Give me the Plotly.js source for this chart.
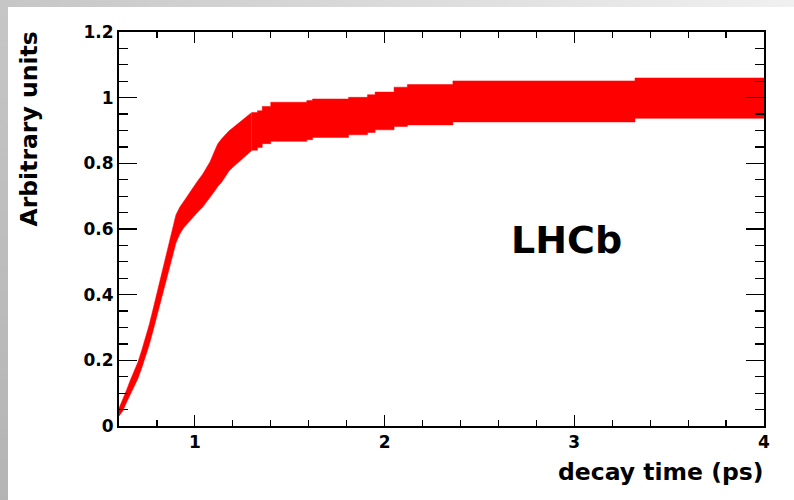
<!DOCTYPE html>
<html>
<head>
<meta charset="utf-8">
<script src="https://cdn.plot.ly/plotly-3.0.1.min.js"></script>
<style>
  html, body { margin: 0; padding: 0; width: 794px; height: 500px; overflow: hidden; background: #ffffff; }
  #topstrip { position: absolute; left: 0; top: 0; width: 794px; height: 7px;
              background: linear-gradient(to right, #c6c6c6, #f0f0f0); }
  #leftstrip { position: absolute; left: 0; top: 0; width: 8px; height: 500px;
               background: linear-gradient(to bottom, #c6c6c6, #b4b4b4); }
  #chart { position: absolute; left: 8px; top: 7px; width: 786px; height: 493px; }
</style>
</head>
<body>
<div id="topstrip"></div>
<div id="leftstrip"></div>
<div id="chart"></div>
<script>
// Rising part of the band (ps, arbitrary units): upper and lower edges
const riseTime  = [0.60,0.62,0.64,0.66,0.68,0.70,0.72,0.74,0.76,0.78,0.80,0.82,0.84,0.86,0.88,0.90,0.92,0.94,0.96,0.98,
                   1.00,1.02,1.04,1.06,1.08,1.10,1.12,1.14,1.16,1.18,1.20,1.22,1.24,1.26,1.28,1.30];
const riseUpper = [0.054,0.080,0.110,0.140,0.168,0.195,0.231,0.268,0.310,0.357,0.405,0.453,0.501,0.550,0.599,0.643,0.666,0.685,0.700,0.717,
                   0.736,0.751,0.766,0.785,0.805,0.832,0.859,0.874,0.887,0.899,0.908,0.918,0.929,0.938,0.946,0.955];
const riseLower = [0.030,0.046,0.072,0.096,0.120,0.145,0.177,0.210,0.248,0.291,0.335,0.379,0.423,0.468,0.513,0.557,0.584,0.603,0.616,0.629,
                   0.644,0.655,0.666,0.681,0.695,0.712,0.729,0.742,0.759,0.777,0.788,0.798,0.809,0.820,0.830,0.839];

// Plateau part of the band: bin lower edges and the bins' upper / lower values
const plateauTime  = [1.30,1.33,1.355,1.40,1.59,1.62,1.81,1.91,1.95,2.05,2.12,2.36,3.32,4.00];
const plateauUpper = [0.955,0.960,0.973,0.986,0.991,0.996,1.001,1.009,1.017,1.032,1.040,1.051,1.060,1.060];
const plateauLower = [0.840,0.848,0.860,0.867,0.872,0.879,0.887,0.894,0.902,0.912,0.917,0.926,0.937,0.937];

const xTickVals = [1, 2, 3, 4];
const xTickText = ["1", "2", "3", "4"];
const yTickVals = [0, 0.2, 0.4, 0.6, 0.8, 1, 1.2];
const yTickText = ["0", "0.2", "0.4", "0.6", "0.8", "1", "1.2"];
const xTitle = "decay time (ps)";
const yTitle = "Arbitrary units";
const label = "LHCb";

const fnt = "DejaVu Sans, Liberation Sans, Arial, sans-serif";
const red = "#ff0000";

function bandPair(xs, lo, hi, shape) {
  return [
    { x: xs, y: lo, type: "scatter", mode: "lines",
      line: { shape: shape, width: 0.5, color: red }, hoverinfo: "skip", showlegend: false },
    { x: xs, y: hi, type: "scatter", mode: "lines",
      line: { shape: shape, width: 0.5, color: red }, fill: "tonexty", fillcolor: red,
      hoverinfo: "skip", showlegend: false }
  ];
}

const traces = [].concat(
  bandPair(riseTime, riseLower, riseUpper, "linear"),
  bandPair(plateauTime, plateauLower, plateauUpper, "hv")
);

const axisCommon = {
  showline: true, linecolor: "#000000", linewidth: 2, mirror: "allticks",
  showgrid: false, zeroline: false, ticks: "inside", tickcolor: "#000000", tickwidth: 1.2,
  tickfont: { family: fnt, size: 17, color: "#000000", weight: "bold" }
};

const layout = {
  width: 786, height: 493,
  margin: { l: 111, r: 30, t: 25, b: 74 },
  paper_bgcolor: "#ffffff", plot_bgcolor: "#ffffff",
  showlegend: false,
  xaxis: Object.assign({}, axisCommon, {
    range: [0.6, 4], tickmode: "array", tickvals: xTickVals, ticktext: xTickText,
    ticklen: 11,
    minor: { dtick: 0.2, tick0: 0, ticks: "inside", ticklen: 6, tickcolor: "#000000", tickwidth: 1.2 }
  }),
  yaxis: Object.assign({}, axisCommon, {
    range: [0, 1.2], tickmode: "array", tickvals: yTickVals, ticktext: yTickText,
    ticklen: 18,
    minor: { dtick: 0.05, tick0: 0, ticks: "inside", ticklen: 9, tickcolor: "#000000", tickwidth: 1.2 }
  }),
  annotations: [
    { text: xTitle, xref: "paper", yref: "paper", x: 1, y: 0, xanchor: "right", yanchor: "middle",
      xshift: 2, yshift: -46, showarrow: false, font: { family: fnt, size: 23.5, color: "#000000", weight: "bold" } },
    { text: yTitle, xref: "paper", yref: "paper", x: 0, y: 1, xanchor: "center", yanchor: "top",
      xshift: -91, yshift: 2, textangle: -90, showarrow: false,
      font: { family: fnt, size: 23.5, color: "#000000", weight: "bold" } },
    { text: label, xref: "x", yref: "y", x: 2.958, y: 0.568, xanchor: "center", yanchor: "middle",
      showarrow: false, font: { family: fnt, size: 38, color: "#000000", weight: "bold" } }
  ]
};

Plotly.newPlot("chart", traces, layout, { displayModeBar: false, staticPlot: true });
</script>
</body>
</html>
